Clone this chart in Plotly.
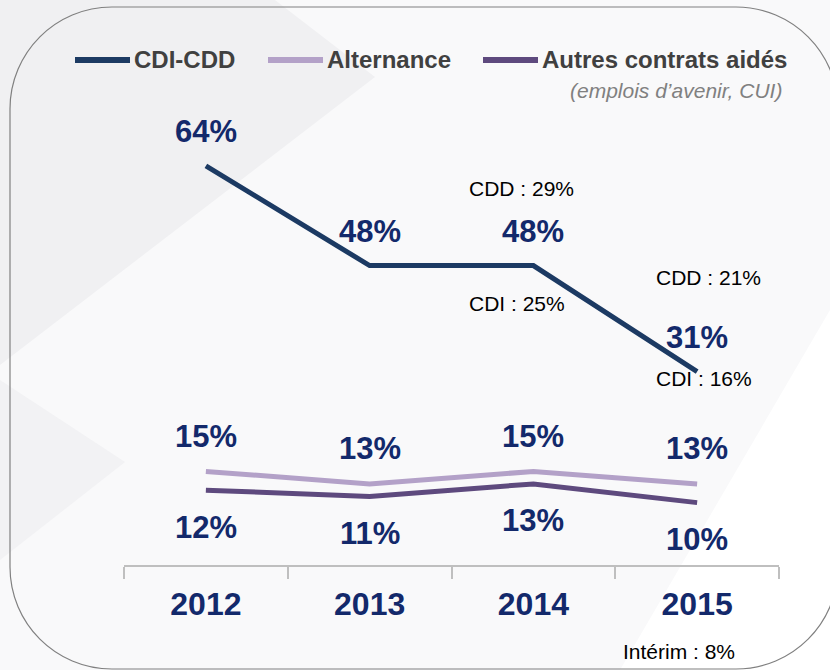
import plotly.graph_objects as go

# ---- data ----
years = ["2012", "2013", "2014", "2015"]
cdi_cdd = [64, 48, 48, 31]
alternance = [15, 13, 15, 13]
autres = [12, 11, 13, 10]
cdd_detail = [None, None, 29, 21]
cdi_detail = [None, None, 25, 16]
interim_2015 = 8

NAVY = "#13296b"
C_CDI = "#1c3a63"
C_ALT = "#b3a1c8"
C_AUT = "#5e4a7e"

# plot area in pixels (used to place the decorative shapes)
W_PX, H_PX = 830, 670
L, R, T, B = 124, 51, 66, 105
PW, PH = W_PX - L - R, H_PX - T - B


def px(x, y):
    return (x - L) / PW, (H_PX - B - y) / PH


def path_from(points):
    parts = []
    for cmd, pts in points:
        coords = " ".join("%.5f,%.5f" % px(*p) for p in pts)
        parts.append(cmd + coords)
    return " ".join(parts) + " Z"


def poly(pts):
    return path_from([("M", [pts[0]])] + [("L", [p]) for p in pts[1:]])


fig = go.Figure()

fig.add_trace(go.Scatter(x=years, y=cdi_cdd, mode="lines", name="CDI-CDD",
                         line=dict(color=C_CDI, width=5)))
fig.add_trace(go.Scatter(x=years, y=alternance, mode="lines", name="Alternance",
                         line=dict(color=C_ALT, width=5)))
fig.add_trace(go.Scatter(x=years, y=autres, mode="lines", name="Autres contrats aidés",
                         line=dict(color=C_AUT, width=5)))

big = dict(family="Arial", size=31, color=NAVY)
small = dict(family="Arial", size=21, color="#000000")

# value labels (x given as category index)
for i, v in enumerate(cdi_cdd):
    fig.add_annotation(x=i, y=v, xref="x", yref="y", text="<b>%d%%</b>" % v,
                       showarrow=False, yshift=34, font=big)
for i, v in enumerate(alternance):
    fig.add_annotation(x=i, y=v, xref="x", yref="y", text="<b>%d%%</b>" % v,
                       showarrow=False, yshift=35, font=big)
for i, v in enumerate(autres):
    fig.add_annotation(x=i, y=v, xref="x", yref="y", text="<b>%d%%</b>" % v,
                       showarrow=False, yshift=-37, font=big)

# CDD / CDI details
cdd_shift = {2: 77, 3: 94}
cdi_shift = {2: -38, 3: -7}
xsh = {2: -66, 3: -43}
for i, (tot, cdd, cdi) in enumerate(zip(cdi_cdd, cdd_detail, cdi_detail)):
    if cdd is None:
        continue
    fig.add_annotation(x=i, y=tot, xref="x", yref="y", text="CDD : %d%%" % cdd,
                       showarrow=False, xanchor="left", xshift=xsh[i],
                       yshift=cdd_shift[i], font=small)
    fig.add_annotation(x=i, y=tot, xref="x", yref="y", text="CDI : %d%%" % cdi,
                       showarrow=False, xanchor="left", xshift=xsh[i],
                       yshift=cdi_shift[i], font=small)

fig.add_annotation(x=len(years) - 1, y=0, xref="x", yref="y",
                   text="Intérim : %d%%" % interim_2015,
                   showarrow=False, xanchor="left", xshift=-76, yshift=-86, font=small)

# legend drawn by hand
leg_font = dict(family="Arial", size=24, color="#404040")
legend_items = [("CDI-CDD", C_CDI, 75), ("Alternance", C_ALT, 268), ("Autres contrats aidés", C_AUT, 483)]
for label, col, x0 in legend_items:
    a0, b0 = px(x0, 60)
    a1, _ = px(x0 + 55, 60)
    fig.add_shape(type="line", xref="paper", yref="paper", x0=a0, x1=a1, y0=b0, y1=b0,
                  line=dict(color=col, width=6))
    ta, tb = px(x0 + 57, 60)
    fig.add_annotation(xref="paper", yref="paper", x=ta, y=tb, text="<b>%s</b>" % label,
                       showarrow=False, xanchor="left", yanchor="middle", font=leg_font)
sa, sb = px(784, 90)
fig.add_annotation(xref="paper", yref="paper", x=sa, y=sb, text="<i>(emplois d’avenir, CUI)</i>",
                   showarrow=False, xanchor="right", yanchor="middle",
                   font=dict(family="Arial", size=21, color="#808080"))

# background decoration
fig.add_shape(type="path", xref="paper", yref="paper", layer="below",
              path=poly([(0, 0), (275, 0), (375, 77), (0, 365)]),
              fillcolor="#f0f0f2", line=dict(width=0))
fig.add_shape(type="path", xref="paper", yref="paper", layer="below",
              path=poly([(0, 380), (125, 462), (0, 560)]),
              fillcolor="#f2f2f4", line=dict(width=0))
fig.add_shape(type="path", xref="paper", yref="paper", layer="below",
              path=poly([(830, 310), (830, 670), (620, 670)]),
              fillcolor="#ffffff", line=dict(width=0))

# rounded frame
x0, x1, y0, y1, r = 10, 838, 7, 669, 102
k = 0.5523 * r
frame = [
    ("M", [(x0, y0 + r)]),
    ("C", [(x0, y0 + r - k), (x0 + r - k, y0), (x0 + r, y0)]),
    ("L", [(x1 - r, y0)]),
    ("C", [(x1 - r + k, y0), (x1, y0 + r - k), (x1, y0 + r)]),
    ("L", [(x1, y1 - r)]),
    ("C", [(x1, y1 - r + k), (x1 - r + k, y1), (x1 - r, y1)]),
    ("L", [(x0 + r, y1)]),
    ("C", [(x0 + r - k, y1), (x0, y1 - r + k), (x0, y1 - r)]),
]
fig.add_shape(type="path", xref="paper", yref="paper", layer="below",
              path=path_from(frame), line=dict(color="#808080", width=1.2))

fig.update_xaxes(type="category", range=[-0.5, 3.5], showgrid=False, zeroline=False,
                 showline=True, linecolor="#bfbfbf", linewidth=2,
                 ticks="outside", tickson="boundaries", ticklen=12, tickwidth=2,
                 tickcolor="#bfbfbf", ticklabelstandoff=10,
                 tickfont=dict(family="Arial", size=32, color=NAVY, weight="bold"))
fig.update_yaxes(range=[0, 80], showgrid=False, zeroline=False, showline=False,
                 showticklabels=False, ticks="")

fig.update_layout(width=W_PX, height=H_PX, margin=dict(l=L, r=R, t=T, b=B),
                  paper_bgcolor="#f9f9fa", plot_bgcolor="rgba(0,0,0,0)",
                  showlegend=False, hovermode=False)

fig.write_html("out.html", config={"displayModeBar": False},
               post_script="document.body.style.margin='0';")
